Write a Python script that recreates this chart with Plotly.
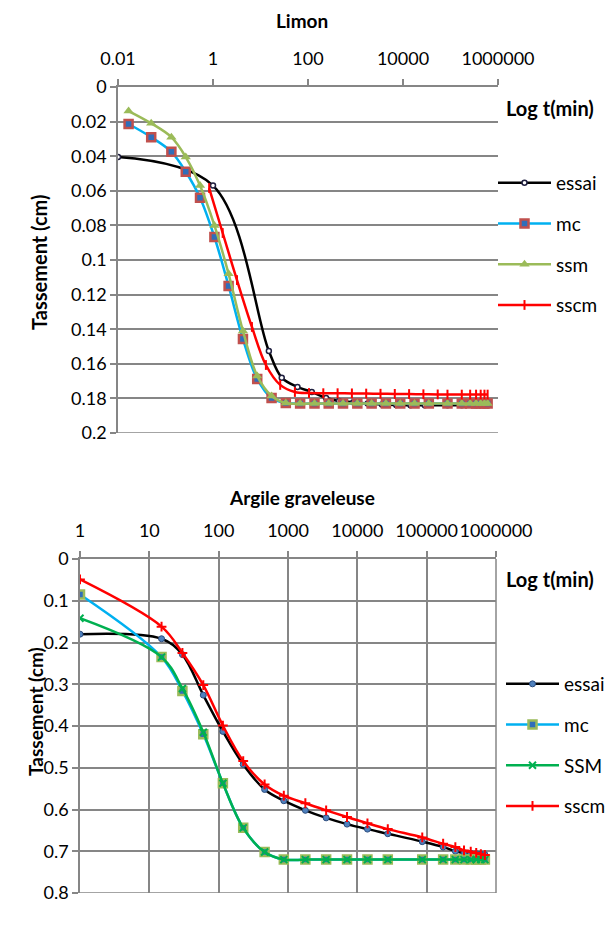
import plotly.graph_objects as go

# ---------------- Data: Limon (top) ----------------
T_TOP = [0.0167, 0.05, 0.133, 0.267, 0.533, 1.07, 2.13, 4.27, 8.53, 17.1, 34.1, 68.3, 137,
         273, 546, 1092, 2185, 4369, 8738, 17476, 34953, 86400, 172800, 259200, 345600,
         432000, 518400, 604800]
MC_TOP = [0.0214, 0.029, 0.0375, 0.049, 0.064, 0.0867, 0.115, 0.1457, 0.1688, 0.1798, 0.1827,
          0.183, 0.183, 0.183, 0.183, 0.183, 0.183, 0.183, 0.183, 0.183, 0.183, 0.183, 0.183,
          0.183, 0.183, 0.183, 0.183, 0.183]
SSM_TOP = [0.0139, 0.021, 0.029, 0.0405, 0.057, 0.08, 0.108, 0.141, 0.167, 0.1786, 0.1827,
           0.183, 0.183, 0.183, 0.183, 0.183, 0.183, 0.183, 0.183, 0.183, 0.183, 0.183, 0.183,
           0.183, 0.183, 0.183, 0.183, 0.183]
T_ESSAI_TOP = [0.01, 1, 15, 28, 60, 120, 240, 450, 900, 1800, 3600, 7200, 14400, 28800,
               86400, 172800, 345600, 604800]
ESSAI_TOP = [0.0405, 0.057, 0.1526, 0.168, 0.1734, 0.1763, 0.1798, 0.1815, 0.1822, 0.183,
             0.1835, 0.1838, 0.184, 0.184, 0.184, 0.184, 0.184, 0.184]
T_SSCM_TOP = [0.83, 1.6, 3.2, 6.6, 13, 26, 53, 105, 210, 420, 840, 1680, 3360, 6720, 13440,
              26880, 53760, 86400, 172800, 259200, 345600, 432000, 518400, 604800]
SSCM_TOP = [0.0584, 0.0844, 0.1116, 0.1387, 0.1607, 0.1722, 0.1763, 0.1769, 0.177, 0.177,
            0.1771, 0.1772, 0.1773, 0.1774, 0.1775, 0.1776, 0.1777, 0.1778, 0.1778, 0.1778,
            0.1778, 0.1778, 0.1778, 0.1778]

X_TICKS_TOP = [0.01, 1, 100, 10000, 1000000]
X_TICKTEXT_TOP = ["0.01", "1", "100", "10000", "1000000"]
Y_TICKS_TOP = [0, 0.02, 0.04, 0.06, 0.08, 0.1, 0.12, 0.14, 0.16, 0.18, 0.2]
Y_TICKTEXT_TOP = ["0", "0.02", "0.04", "0.06", "0.08", "0.1", "0.12", "0.14", "0.16", "0.18", "0.2"]

# ---------------- Data: Argile graveleuse (bottom) ----------------
T_BOT = [1, 15, 30, 60, 115, 226, 460, 870, 1780, 3550, 7100, 14000, 27500, 86400, 172800,
         259200, 345600, 432000, 518400, 604800, 691200]
ESSAI_BOT = [0.18, 0.191, 0.229, 0.326, 0.413, 0.492, 0.552, 0.579, 0.602, 0.62, 0.635, 0.647,
             0.658, 0.677, 0.69, 0.70, 0.704, 0.705, 0.706, 0.707, 0.708]
MC_BOT = [0.085, 0.235, 0.316, 0.42, 0.537, 0.644, 0.702, 0.72, 0.72, 0.72, 0.72, 0.72, 0.72,
          0.72, 0.72, 0.72, 0.72, 0.72, 0.72, 0.72, 0.72]
SSM_BOT = [0.142, 0.235, 0.31, 0.415, 0.537, 0.644, 0.702, 0.72, 0.72, 0.72, 0.72, 0.72, 0.72,
           0.72, 0.72, 0.72, 0.72, 0.72, 0.72, 0.72, 0.72]
SSCM_BOT = [0.049, 0.162, 0.225, 0.302, 0.399, 0.484, 0.54, 0.567, 0.585, 0.602, 0.618, 0.633,
            0.647, 0.667, 0.682, 0.69, 0.698, 0.701, 0.704, 0.707, 0.709]

X_TICKS_BOT = [1, 10, 100, 1000, 10000, 100000, 1000000]
X_TICKTEXT_BOT = ["1", "10", "100", "1000", "10000", "100000", "1000000"]
Y_TICKS_BOT = [0, 0.1, 0.2, 0.3, 0.4, 0.5, 0.6, 0.7, 0.8]
Y_TICKTEXT_BOT = ["0", "0.1", "0.2", "0.3", "0.4", "0.5", "0.6", "0.7", "0.8"]

W, H = 608, 926
FONT = "Lato"
GRID = "#868686"
LW = 2.5

# plot-area boxes in page pixels (left, right, top, bottom)
TOP_BOX = (118, 498, 87, 433)
BOT_BOX = (80, 496, 559, 893)


def px_x(v):
    return v / W


def px_y(v):
    return 1 - v / H


fig = go.Figure()

# top traces
fig.add_trace(go.Scatter(x=T_ESSAI_TOP, y=ESSAI_TOP, name="essai", mode="lines+markers",
                         line=dict(color="black", width=LW, shape="spline"),
                         marker=dict(symbol="circle", size=5, color="white",
                                     line=dict(color="#1F1F3F", width=1.5)),
                         xaxis="x", yaxis="y", legend="legend"))
fig.add_trace(go.Scatter(x=T_TOP, y=MC_TOP, name="mc", mode="lines+markers",
                         line=dict(color="#00B0F0", width=LW, shape="spline"),
                         marker=dict(symbol="square", size=8, color="#2F6EBA",
                                     line=dict(color="#C0504D", width=2.5)),
                         xaxis="x", yaxis="y", legend="legend"))
fig.add_trace(go.Scatter(x=T_TOP, y=SSM_TOP, name="ssm", mode="lines+markers",
                         line=dict(color="#9BBB59", width=LW, shape="spline"),
                         marker=dict(symbol="triangle-up", size=9, color="#9BBB59"),
                         xaxis="x", yaxis="y", legend="legend"))
fig.add_trace(go.Scatter(x=T_SSCM_TOP, y=SSCM_TOP, name="sscm", mode="lines+markers",
                         line=dict(color="#FF0000", width=LW, shape="spline"),
                         marker=dict(symbol="line-ns", size=7, color="#FF0000",
                                     line=dict(color="#FF0000", width=2)),
                         xaxis="x", yaxis="y", legend="legend"))

# bottom traces
fig.add_trace(go.Scatter(x=T_BOT, y=ESSAI_BOT, name="essai", mode="lines+markers",
                         line=dict(color="black", width=LW, shape="spline"),
                         marker=dict(symbol="circle", size=6, color="#4F81BD",
                                     line=dict(color="#2B4C7E", width=1)),
                         xaxis="x2", yaxis="y2", legend="legend2"))
fig.add_trace(go.Scatter(x=T_BOT, y=MC_BOT, name="mc", mode="lines+markers",
                         line=dict(color="#00B0F0", width=LW, shape="spline"),
                         marker=dict(symbol="square", size=8, color="#2F6EBA",
                                     line=dict(color="#9BBB59", width=2.5)),
                         xaxis="x2", yaxis="y2", legend="legend2"))
fig.add_trace(go.Scatter(x=T_BOT, y=SSM_BOT, name="SSM", mode="lines+markers",
                         line=dict(color="#00B050", width=LW, shape="spline"),
                         marker=dict(symbol="x-thin", size=7, color="#00B050",
                                     line=dict(color="#00B050", width=2)),
                         xaxis="x2", yaxis="y2", legend="legend2"))
fig.add_trace(go.Scatter(x=T_BOT, y=SSCM_BOT, name="sscm", mode="lines+markers",
                         line=dict(color="#FF0000", width=LW, shape="spline"),
                         marker=dict(symbol="cross-thin", size=7, color="#FF0000",
                                     line=dict(color="#FF0000", width=2)),
                         xaxis="x2", yaxis="y2", legend="legend2"))

tickfont = dict(family=FONT, size=18, color="black")
common_x = dict(type="log", side="top", ticks="outside", ticklen=6, tickcolor=GRID,
                tickwidth=1.5, showline=True, linecolor=GRID, linewidth=1.5,
                zeroline=False, tickfont=tickfont, ticklabelstandoff=7, tickangle=0,
                automargin=False)
common_y = dict(ticks="outside", ticklen=6, tickcolor=GRID, tickwidth=1.5, showline=True,
                linecolor=GRID, linewidth=1.5, showgrid=True, gridcolor=GRID, gridwidth=1.5,
                zeroline=False, tickfont=tickfont, automargin=False)

legend_font = dict(family=FONT, size=19, color="black")

fig.update_layout(
    width=W, height=H, autosize=False,
    margin=dict(l=0, r=0, t=0, b=0, pad=0, autoexpand=False),
    paper_bgcolor="white", plot_bgcolor="white",
    font=dict(family=FONT, size=18, color="black"),
    xaxis=dict(domain=[px_x(TOP_BOX[0]), px_x(TOP_BOX[1])], anchor="y", range=[-2, 6],
               tickvals=X_TICKS_TOP, ticktext=X_TICKTEXT_TOP, showgrid=False, **common_x),
    yaxis=dict(domain=[px_y(TOP_BOX[3]), px_y(TOP_BOX[2])], anchor="x", range=[0.2, 0],
               tickvals=Y_TICKS_TOP, ticktext=Y_TICKTEXT_TOP, **common_y),
    xaxis2=dict(domain=[px_x(BOT_BOX[0]), px_x(BOT_BOX[1])], anchor="y2", range=[0, 6],
                tickvals=X_TICKS_BOT, ticktext=X_TICKTEXT_BOT, showgrid=True,
                gridcolor=GRID, gridwidth=1.5, **common_x),
    yaxis2=dict(domain=[px_y(BOT_BOX[3]), px_y(BOT_BOX[2])], anchor="x2", range=[0.8, 0],
                tickvals=Y_TICKS_BOT, ticktext=Y_TICKTEXT_BOT, **common_y),
    legend=dict(x=px_x(493), y=px_y(164), xanchor="left", yanchor="top",
                font=legend_font, itemwidth=53,
                tracegroupgap=13, bgcolor="rgba(0,0,0,0)"),
    legend2=dict(x=px_x(501), y=px_y(665), xanchor="left", yanchor="top",
                 font=legend_font, itemwidth=53,
                 tracegroupgap=13, bgcolor="rgba(0,0,0,0)"),
    showlegend=True,
)

# separate legend groups so tracegroupgap spaces the entries
for i, tr in enumerate(fig.data):
    tr.legendgroup = "g%d" % i

# edge gridlines (bottom of each plot, right edge of bottom plot)
edge = dict(color=GRID, width=1.5)
fig.add_shape(type="line", xref="x domain", yref="y", x0=0, x1=1, y0=0.2, y1=0.2, line=edge)
fig.add_shape(type="line", xref="x2 domain", yref="y2", x0=0, x1=1, y0=0.8, y1=0.8, line=edge)
fig.add_shape(type="line", xref="x2 domain", yref="y2 domain", x0=1, x1=1, y0=0, y1=1,
              line=edge)

bold = dict(family=FONT, size=19, color="black")
bold_axis = dict(family=FONT, size=20, color="black")


def ann(text, x, y, font, angle=0, xanchor="center"):
    return dict(text=text, x=px_x(x), y=px_y(y), xref="paper", yref="paper",
                xanchor=xanchor, yanchor="middle", textangle=angle,
                showarrow=False, font=font)


annotations = [
    ann("<b>Limon</b>", 302, 20, bold),
    ann("<b>Argile graveleuse</b>", 302, 498, bold),
    ann("<b>Log t(min)</b>", 504, 108, bold_axis, xanchor="left"),
    ann("<b>Log t(min)</b>", 504, 579, bold_axis, xanchor="left"),
    ann("<b>Tassement (cm)</b>", 39, 262, bold_axis, angle=-90),
    ann("<b>Tassement (cm)</b>", 35, 712, dict(family=FONT, size=19, color="black"), angle=-90),
]
fig.update_layout(annotations=annotations)

# remove the default 8px page margin so the figure fills the window exactly
fig.write_html("out.html",
               config={"displayModeBar": False},
               post_script="document.body.style.margin='0';"
                           "document.body.style.overflow='hidden';")
